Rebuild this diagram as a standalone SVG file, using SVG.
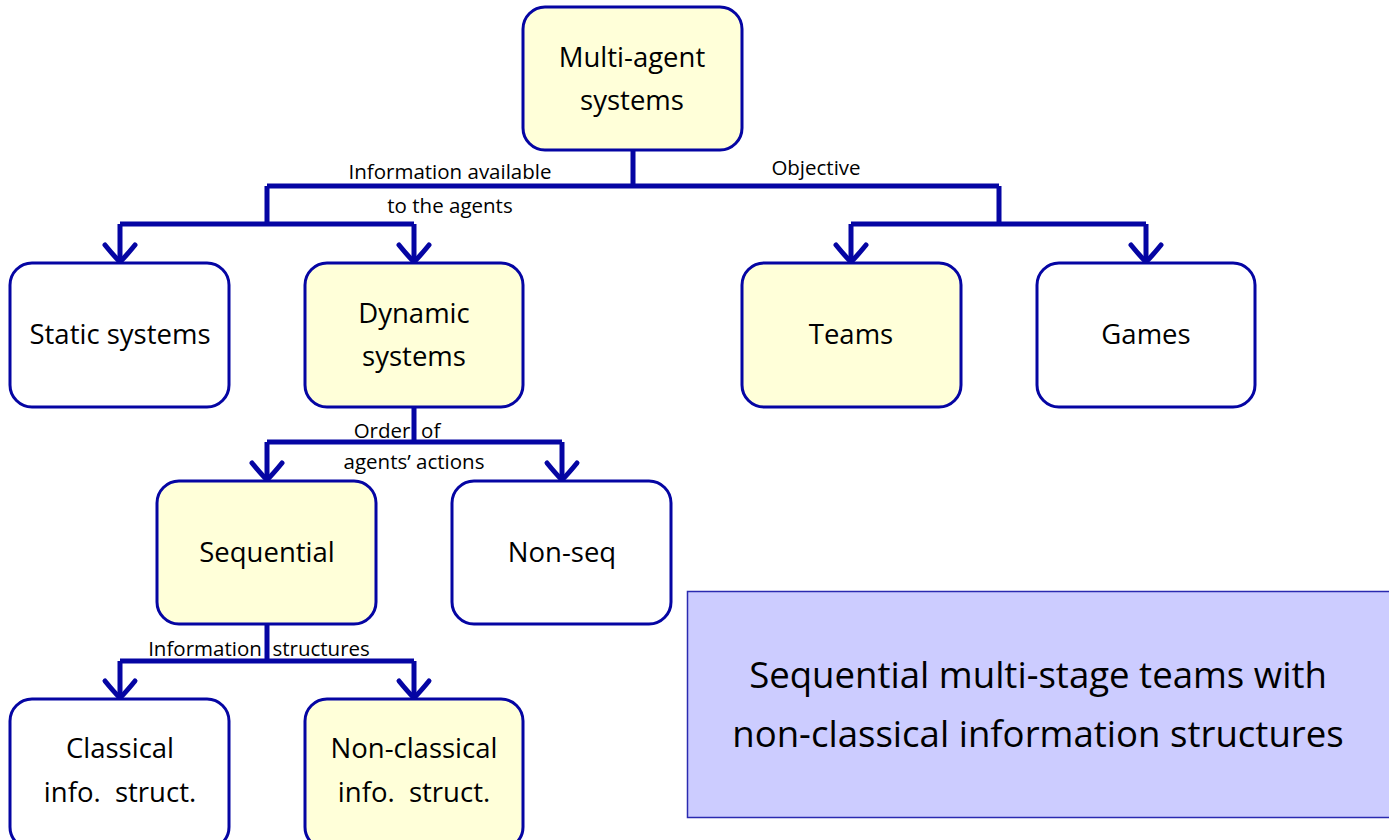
<svg xmlns="http://www.w3.org/2000/svg" width="1389" height="840" viewBox="0 0 1389 840">
  <style>
    .box { stroke: #0505a3; stroke-width: 3; }
    .plain { fill: #ffffff; }
    .hl { fill: #ffffd9; }
    .node { font-family: "Open Sans", "DejaVu Sans", sans-serif; font-size: 27.5px; fill: #000; text-anchor: middle; }
    .lbl { font-family: "Open Sans", "DejaVu Sans", sans-serif; font-size: 20.5px; fill: #000; text-anchor: middle; }
    .wire { fill: none; stroke: #0505a3; stroke-width: 5; stroke-linejoin: miter; }
    .summary { font-family: "Open Sans", "DejaVu Sans", sans-serif; font-size: 36.6px; fill: #000; text-anchor: middle; }
  </style>
  <defs>
    <marker id="vee" markerUnits="userSpaceOnUse" orient="auto" refX="0" refY="0" markerWidth="40" markerHeight="40" viewBox="-20 -20 40 40" overflow="visible">
      <path d="M -17,-15 Q -6,-6 0,0 Q -6,6 -17,15" fill="none" stroke="#0505a3" stroke-width="5" stroke-linecap="round"/>
    </marker>
  </defs>
  <rect width="1389" height="840" fill="#ffffff"/>

  <g id="connectors">
    <!-- root split -->
    <path class="wire" d="M633,150 V186 M267,186 H999"/>
    <path class="wire" d="M267,186 V224 M120,224 H414"/>
    <path class="wire" d="M999,186 V224 M851,224 H1146"/>
    <path class="wire" d="M120,224 V262" marker-end="url(#vee)"/>
    <path class="wire" d="M414,224 V262" marker-end="url(#vee)"/>
    <path class="wire" d="M851,224 V262" marker-end="url(#vee)"/>
    <path class="wire" d="M1146,224 V262" marker-end="url(#vee)"/>
    <!-- dynamic systems split -->
    <path class="wire" d="M414,407 V442 M267,442 H562"/>
    <path class="wire" d="M267,442 V480" marker-end="url(#vee)"/>
    <path class="wire" d="M562,442 V480" marker-end="url(#vee)"/>
    <!-- sequential split -->
    <path class="wire" d="M267,624 V661 M120,661 H414"/>
    <path class="wire" d="M120,661 V698" marker-end="url(#vee)"/>
    <path class="wire" d="M414,661 V698" marker-end="url(#vee)"/>

    <text class="lbl" x="450" y="179">Information available</text>
    <text class="lbl" x="450" y="213">to the agents</text>
    <text class="lbl" x="816" y="175">Objective</text>
    <text class="lbl" x="397" y="438" xml:space="preserve">Order  of</text>
    <text class="lbl" x="414" y="469">agents’ actions</text>
    <text class="lbl" x="259" y="656" xml:space="preserve">Information  structures</text>
  </g>

  <g id="multi-agent">
    <rect class="box hl" x="523" y="7" width="219" height="143" rx="22"/>
    <text class="node" x="632" y="67">Multi-agent</text>
    <text class="node" x="632" y="110">systems</text>
  </g>
  <g id="static">
    <rect class="box plain" x="10" y="263" width="219" height="144" rx="22"/>
    <text class="node" x="120" y="344">Static systems</text>
  </g>
  <g id="dynamic">
    <rect class="box hl" x="305" y="263" width="218" height="144" rx="22"/>
    <text class="node" x="414" y="323">Dynamic</text>
    <text class="node" x="414" y="366">systems</text>
  </g>
  <g id="teams">
    <rect class="box hl" x="742" y="263" width="219" height="144" rx="22"/>
    <text class="node" x="851" y="344">Teams</text>
  </g>
  <g id="games">
    <rect class="box plain" x="1037" y="263" width="218" height="144" rx="22"/>
    <text class="node" x="1146" y="344">Games</text>
  </g>
  <g id="sequential">
    <rect class="box hl" x="157" y="481" width="219" height="143" rx="22"/>
    <text class="node" x="267" y="562">Sequential</text>
  </g>
  <g id="non-seq">
    <rect class="box plain" x="452" y="481" width="219" height="143" rx="22"/>
    <text class="node" x="562" y="562">Non-seq</text>
  </g>
  <g id="classical">
    <rect class="box plain" x="10" y="699" width="219" height="150" rx="22"/>
    <text class="node" x="120" y="758">Classical</text>
    <text class="node" x="120" y="802" xml:space="preserve">info.  struct.</text>
  </g>
  <g id="non-classical">
    <rect class="box hl" x="305" y="699" width="218" height="150" rx="22"/>
    <text class="node" x="414" y="758">Non-classical</text>
    <text class="node" x="414" y="802" xml:space="preserve">info.  struct.</text>
  </g>
  <g id="summary">
    <rect x="687.5" y="591.5" width="703" height="226" fill="#ccccff" stroke="#2a2ab0" stroke-width="1.5"/>
    <text class="summary" x="1038" y="688">Sequential multi-stage teams with</text>
    <text class="summary" x="1038" y="747">non-classical information structures</text>
  </g>
</svg>
